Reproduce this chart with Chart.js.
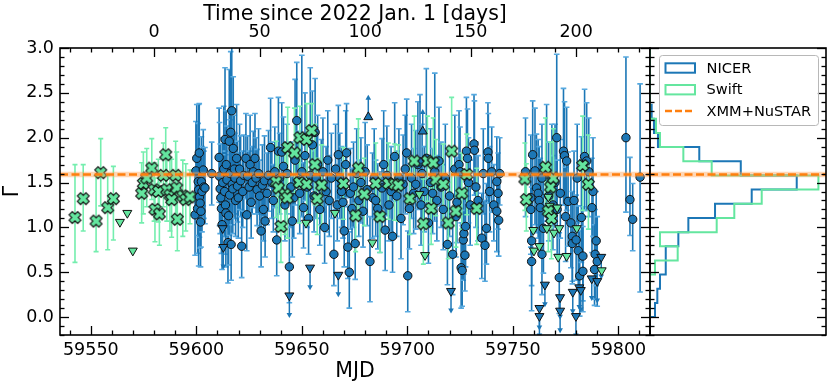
<!DOCTYPE html>
<html><head><meta charset="utf-8">
<script src="https://cdn.jsdelivr.net/npm/chart.js@4.4.0/dist/chart.umd.min.js"></script>
<style>
html,body{margin:0;padding:0;background:#fff;}
#wrap{position:relative;width:830px;height:385px;background:#fff;}
canvas{position:absolute;left:0;top:0;}
</style></head><body>
<div id="wrap"><canvas id="main" width="830" height="385"></canvas><canvas id="hist" width="830" height="385"></canvas></div>
<script>
// ---------------- DATA ----------------
const mjdRef = 59580;            // 2022 Jan. 1
const xmmGamma = 1.59;
const xmmBand = [1.56, 1.62];
const legendLabels = ['NICER', 'Swift', 'XMM+NuSTAR'];
const mjdTicks = [59550, 59600, 59650, 59700, 59750, 59800];
const dayTicks = [0, 50, 100, 150, 200];
const gammaTicks = [0.0, 0.5, 1.0, 1.5, 2.0, 2.5, 3.0];

// NICER detections: [MJD, Gamma, err down, err up]
const nicerPoints = [
[59599.4,1.14,0.45,0.5],[59599.8,1.63,0.5,0.55],[59600.2,1.77,0.55,0.6],[59600.6,1.21,0.5,0.55],[59600.9,1.51,0.6,0.65],
[59601.1,1.42,0.85,0.95],[59601.4,1.83,0.5,0.55],[59601.5,1.34,0.45,0.5],[59601.8,1.27,0.5,0.55],[59602.0,1.06,0.5,0.45],
[59602.2,1.18,0.4,0.45],[59602.4,1.51,0.45,0.5],[59602.7,1.40,0.45,0.5],[59603.3,1.64,0.4,0.45],[59603.6,1.45,0.35,0.4],
[59604.1,1.44,0.4,0.45],[59607.3,1.60,0.35,0.35],
[59610.8,1.78,0.5,0.55],[59611.0,1.57,0.55,0.6],[59611.3,1.43,0.5,0.5],[59611.6,1.33,0.55,0.6],[59611.9,1.21,0.5,0.55],
[59612.2,1.03,0.5,0.5],[59612.5,1.50,0.45,0.5],[59613.0,1.65,0.5,0.7],[59613.6,1.98,0.5,0.8],[59613.4,1.40,0.5,0.6],
[59613.8,1.25,0.55,0.6],[59614.0,1.16,0.6,0.65],[59614.2,1.70,0.5,0.6],[59614.5,1.53,0.55,0.6],[59615.0,0.83,0.45,0.5],
[59615.3,1.13,0.55,0.6],[59615.6,1.96,0.6,0.8],[59615.8,1.36,0.45,0.55],[59616.0,1.60,0.5,0.6],[59616.3,2.06,0.7,0.9],
[59616.5,0.81,0.4,0.5],[59616.8,2.30,0.9,1.0],[59617.0,1.48,0.45,0.55],[59617.3,1.43,0.5,0.6],[59617.5,1.88,0.6,0.8],
[59618.0,1.65,0.5,0.6],[59618.3,1.55,0.45,0.5],[59618.6,1.30,0.4,0.5],[59619.1,1.77,0.5,0.6],[59619.5,1.46,0.4,0.5],
[59619.9,1.33,0.45,0.5],[59620.5,1.65,0.45,0.5],[59621.0,1.52,0.4,0.5],[59621.5,0.79,0.35,0.4],[59622.0,1.40,0.4,0.45],
[59622.5,1.58,0.4,0.45],
[59623.5,1.77,0.45,0.5],[59623.9,1.14,0.4,0.45],[59624.3,1.57,0.4,0.45],[59625.0,1.45,0.35,0.4],[59625.5,1.70,0.45,0.55],
[59626.0,1.28,0.4,0.45],[59626.5,1.50,0.35,0.4],[59627.0,1.62,0.4,0.45],[59627.8,1.77,0.45,0.5],[59628.3,1.55,0.4,0.45],
[59628.8,1.42,0.4,0.45],[59629.5,1.60,0.45,0.5],[59630.0,1.35,0.35,0.4],[59630.7,0.96,0.4,0.45],[59631.3,1.47,0.4,0.45],
[59631.8,1.20,0.35,0.4],[59632.3,1.52,0.4,0.5],[59632.6,1.07,0.4,0.45],[59633.5,1.38,0.35,0.45],[59634.2,1.58,0.4,0.5],
[59635.2,1.89,0.45,0.55],[59635.8,1.50,0.4,0.45],[59636.5,1.30,0.35,0.4],
[59637.2,1.62,0.4,0.5],[59638.1,0.86,0.4,0.45],[59638.9,1.85,0.5,0.6],[59639.5,1.55,0.4,0.5],[59640.5,1.84,0.45,0.55],
[59641.3,1.68,0.45,0.55],[59642.0,1.25,0.4,0.45],[59643.0,1.60,0.45,0.55],[59644.1,0.56,0.4,0.5],[59644.8,1.45,0.45,0.5],
[59645.5,1.07,0.4,0.5],[59646.2,1.33,0.45,0.5],[59646.8,1.75,0.5,0.9],[59647.6,2.19,0.6,0.65],[59648.3,1.52,0.45,0.55],
[59649.0,1.38,0.45,0.5],[59650.0,1.62,0.5,1.3],[59650.8,1.22,0.45,0.5],[59651.5,1.80,0.5,0.7],[59652.5,1.45,0.45,0.6],
[59653.2,1.10,0.4,0.5],[59654.0,1.58,0.5,1.2],[59655.0,1.92,0.5,0.6],[59655.8,1.35,0.4,0.5],[59656.3,2.06,0.55,0.6],
[59656.8,1.55,0.45,0.5],[59657.5,1.70,0.45,0.55],[59658.5,1.20,0.4,0.5],[59659.2,1.48,0.45,0.5],[59660.0,1.62,0.45,0.6],
[59660.8,1.00,0.4,0.45],[59661.5,1.40,0.45,0.5],[59662.3,1.75,0.5,0.55],[59663.0,1.30,0.4,0.5],[59664.0,1.55,0.45,0.5],
[59665.2,0.70,0.35,0.45],[59666.0,1.65,0.45,0.5],[59666.8,1.25,0.4,0.45],[59667.3,1.81,0.5,0.55],
[59668.0,1.55,0.45,0.5],[59668.8,1.40,0.4,0.5],[59669.5,1.28,0.4,0.45],[59670.1,0.96,0.4,0.5],[59670.8,1.70,0.45,0.6],
[59671.2,1.83,0.5,0.55],[59671.8,0.78,0.35,0.45],[59672.5,0.50,0.4,0.45],[59673.0,1.38,0.4,0.5],[59673.8,1.21,0.4,0.45],
[59674.5,1.45,0.45,0.5],[59675.3,0.82,0.4,0.45],[59676.0,1.60,0.45,0.5],[59677.0,1.30,0.4,0.45],[59678.0,1.50,0.45,0.5],
[59679.0,1.18,0.4,0.5],[59680.0,1.62,0.45,0.55],[59681.0,1.42,0.4,0.5],[59682.3,0.62,0.45,0.5],[59683.5,1.33,0.45,0.5],
[59684.3,1.55,0.45,0.55],[59685.0,1.30,0.4,0.45],[59686.0,1.21,0.45,0.5],[59687.0,1.12,0.4,0.5],[59688.0,1.44,0.45,0.55],
[59688.8,1.70,0.5,0.6],[59689.5,0.97,0.45,0.5],[59690.3,1.58,0.45,0.55],[59691.3,1.25,0.4,0.5],[59692.3,1.40,0.45,0.5],
[59693.0,0.90,0.4,0.5],[59694.0,1.79,0.5,0.6],[59695.0,1.35,0.45,0.5],[59696.0,1.55,0.45,0.55],[59697.0,1.10,0.45,0.5],
[59698.0,1.48,0.45,0.55],[59699.0,1.65,0.5,0.6],[59699.7,1.83,0.5,0.6],[59700.2,0.46,0.4,0.5],
[59701.0,1.21,0.45,0.5],[59702.0,1.55,0.45,0.6],[59703.0,1.38,0.45,0.5],[59704.0,1.48,0.5,0.6],[59705.0,1.70,0.5,0.7],
[59706.0,1.73,0.5,0.75],[59706.5,1.25,0.45,0.5],[59707.0,1.60,0.5,0.55],[59708.0,1.40,0.45,0.5],[59709.0,1.77,0.55,1.0],
[59710.0,1.05,0.45,0.5],[59711.0,1.50,0.5,0.6],[59712.0,1.38,0.45,0.5],[59713.0,1.62,0.55,1.1],[59714.0,1.30,0.45,0.5],
[59715.0,1.74,0.5,0.6],[59716.0,1.45,0.45,0.5],[59717.0,1.20,0.45,0.5],[59718.0,1.55,0.5,0.6],[59719.0,0.81,0.45,0.5],
[59720.0,1.35,0.45,0.5],[59721.5,0.70,0.45,0.5],[59722.5,1.65,0.5,0.6],[59723.1,1.12,0.45,0.5],[59723.5,1.28,0.45,0.5],
[59724.5,1.70,0.5,0.6],[59725.0,1.62,0.45,0.5],[59725.5,0.55,0.45,0.5],[59726.0,0.52,0.4,0.5],[59726.5,0.86,0.45,0.5],
[59726.8,0.93,0.45,0.5],[59727.3,0.69,0.4,0.5],[59727.6,1.01,0.45,0.5],[59728.0,1.85,0.5,0.6],[59728.5,1.77,0.5,0.55],
[59729.0,1.50,0.45,0.5],[59729.8,1.25,0.45,0.5],[59731.6,1.93,0.5,0.55],[59731.8,1.86,0.5,0.55],[59732.5,1.45,0.45,0.5],
[59733.5,1.30,0.45,0.5],[59735.3,0.88,0.45,0.5],[59736.0,1.60,0.45,0.5],[59736.8,0.80,0.4,0.5],[59737.5,0.99,0.4,0.5],
[59738.2,1.84,0.5,0.55],[59738.4,1.77,0.5,0.5],[59739.0,1.40,0.45,0.5],[59740.0,1.62,0.45,0.5],[59741.0,1.25,0.4,0.45],
[59742.4,1.51,0.45,0.5],[59742.4,1.18,0.45,0.45],[59743.0,1.38,0.4,0.45],[59743.3,1.08,0.4,0.45],[59743.8,1.60,0.35,0.4],
[59756.0,1.62,0.5,0.6],[59758.5,1.33,0.55,0.7],[59758.5,1.20,0.5,0.6],[59758.9,0.85,0.5,0.6],[59758.9,0.62,0.55,0.6],
[59759.4,1.81,0.6,0.6],[59760.5,1.63,0.6,0.7],[59761.2,1.44,0.5,0.6],[59762.0,1.38,0.5,0.6],[59762.5,1.30,0.5,0.6],
[59763.0,1.22,0.5,0.55],[59763.8,1.55,0.55,0.6],[59763.8,0.70,0.45,0.55],[59764.5,0.99,0.5,0.55],[59766.0,1.62,0.55,0.75],
[59767.0,1.35,0.5,0.6],[59768.5,1.55,0.5,0.6],[59769.0,1.25,0.5,0.55],[59770.0,1.50,0.5,0.65],[59770.8,2.00,0.75,0.93],
[59771.0,1.20,0.5,0.55],[59772.0,0.44,0.4,0.5],[59772.5,1.38,0.5,0.6],[59774.0,1.85,0.6,0.7],[59774.5,1.80,0.55,0.6],
[59775.0,1.12,0.5,0.55],[59775.5,1.74,0.55,0.6],[59776.2,1.29,0.5,0.55],[59777.5,1.05,0.5,0.55],[59778.2,0.90,0.5,0.5],
[59778.2,0.82,0.45,0.5],[59779.0,1.30,0.5,0.55],[59780.0,0.86,0.45,0.5],[59780.5,1.55,0.5,0.6],[59781.0,0.74,0.45,0.5],
[59781.7,0.46,0.45,0.5],[59782.5,1.11,0.5,0.9],[59783.2,0.68,0.5,0.55],[59783.2,0.51,0.45,0.5],[59784.0,1.79,0.6,0.75],
[59785.0,1.74,0.55,0.65],[59786.0,1.62,0.5,0.6],[59787.5,1.22,0.5,0.55],[59788.0,1.40,0.5,0.6],[59788.7,0.53,0.4,0.5],
[59789.0,0.70,0.5,0.5],[59789.5,0.85,0.5,0.55],[59790.0,0.62,0.5,0.5],
[59803.6,2.00,0.83,0.9],[59805.5,1.31,0.4,0.47],[59806.8,1.09,0.35,0.4],[59810.3,1.56,1.28,1.04]
];
// NICER upper limits (down triangles) and lower limits (up triangles): [MJD, Gamma]
const nicerUpperLimits = [
[59612.5,0.99],[59612.8,0.78],[59644.1,0.24],[59653.9,0.55],[59667.3,0.47],[59720.7,0.29],
[59762.6,0.10],[59762.6,0.01],[59765.2,0.36],[59772.4,0.22],[59772.4,0.07],[59778.4,0.28],
[59779.9,0.01],[59781.5,0.33],[59782.2,0.30],[59787.4,0.43],[59790.0,0.40],[59791.9,0.67]
];
const nicerLowerLimits = [[59681.5,2.23],[59707.3,2.07]];

// Swift detections: [MJD, Gamma, err down, err up]
const swiftPoints = [
[59542.5,1.11,0.50,0.59],[59546.4,1.32,0.36,0.38],[59552.5,1.07,0.34,0.51],[59554.7,1.61,0.37,0.38],
[59558.0,1.22,0.47,0.36],[59560.7,1.32,0.46,0.36],[59574.1,1.38,0.33,0.34],[59574.9,1.49,0.34,0.35],
[59576.5,1.55,0.32,0.33],[59578.9,1.66,0.35,0.33],[59580.0,1.42,0.35,0.30],[59580.4,1.20,0.36,0.35],
[59582.0,1.40,0.34,0.36],[59582.5,1.15,0.35,0.35],[59584.4,1.58,0.35,0.36],[59585.5,1.81,0.40,0.30],
[59586.0,1.42,0.35,0.36],[59587.5,1.36,0.40,0.42],[59588.3,1.31,0.42,0.45],[59590.2,1.58,0.50,0.38],
[59590.7,1.44,0.40,0.40],[59591.0,1.09,0.35,0.45],[59593.6,1.35,0.45,0.40],[59595.0,1.31,0.35,0.40],
[59597.0,1.34,0.30,0.30],
[59637.8,1.51,0.40,0.45],[59638.9,1.44,0.40,0.45],[59640.1,1.01,0.40,0.45],[59642.0,1.37,0.45,0.50],
[59643.1,1.33,0.45,0.50],[59643.3,1.89,0.50,0.45],[59646.5,1.83,0.45,0.50],[59648.8,1.50,0.45,0.50],
[59649.1,2.00,0.50,0.35],[59652.3,1.98,0.50,0.40],[59652.3,1.48,0.45,0.45],[59654.7,2.08,0.50,0.30],
[59656.2,1.70,0.45,0.45],[59657.3,1.32,0.40,0.45],[59659.4,1.47,0.45,0.45],[59669.7,1.49,0.40,0.40],
[59675.5,1.13,0.40,0.45],[59676.8,1.66,0.45,0.55],[59679.6,1.37,0.35,0.40],[59685.0,1.49,0.40,0.45],
[59687.0,1.12,0.40,0.45],[59691.0,1.49,0.40,0.45],[59694.0,1.48,0.40,0.45],[59695.7,1.47,0.40,0.45],
[59701.2,1.32,0.40,0.45],[59703.3,1.74,0.45,0.50],[59707.6,1.04,0.45,0.50],[59709.5,1.74,0.45,0.50],
[59711.3,1.21,0.40,0.45],[59712.3,1.72,0.45,0.50],[59713.5,1.53,0.40,0.45],[59717.0,1.48,0.40,0.45],
[59719.4,1.05,0.40,0.45],[59721.0,1.85,0.50,0.60],[59723.0,1.18,0.40,0.45],[59725.8,1.38,0.40,0.45],
[59728.2,1.59,0.45,0.45],[59732.9,1.21,0.40,0.45],
[59755.7,1.54,0.35,0.40],[59756.4,1.31,0.35,0.40],[59765.5,1.67,0.50,0.55],[59766.8,1.18,0.45,0.50],
[59767.9,1.45,0.45,0.50],[59768.3,1.10,0.45,0.50],[59769.2,1.55,0.45,0.55],[59783.1,1.69,0.50,0.55],
[59785.8,1.48,0.50,0.55]
];
// Swift upper limits (down triangles): [MJD, Gamma]
const swiftUpperLimits = [
[59563.8,1.06],[59567.3,1.16],[59569.9,0.74],[59652.0,1.05],[59665.7,1.16],[59683.4,0.83],
[59705.7,1.37],[59708.4,0.69],[59759.7,0.97],[59760.0,0.74],[59762.6,0.79],[59766.1,0.99],
[59766.8,1.34],[59767.5,1.24],[59769.5,0.94],[59771.0,1.22],[59772.0,0.99],[59771.5,0.67],
[59775.5,0.68],[59780.3,0.99],[59792.1,0.52]
];

// Histograms of Gamma (density), bin edges and values
const histEdges = [0.000,0.158,0.316,0.474,0.632,0.789,0.947,1.105,1.263,1.421,1.579,1.737,1.895,2.053,2.211,2.368,2.526,2.684,2.842,3.000];
const nicerHist = [0.054,0.079,0.108,0.170,0.170,0.306,0.414,0.702,1.098,1.584,0.980,0.532,0.086,0.043,0.018,0,0,0,0];
const swiftHist = [0,0,0,0.054,0.299,0.108,0.720,0.910,1.206,1.818,0.666,0.360,0.108,0.065,0,0,0,0,0];

// ---------------- STYLE ----------------
const FONT = "'DejaVu Sans', sans-serif";
const BLUE = '#1c77b6', BLUE_CAP = '#56a9e0';
const GREEN = '#64e69f', GREEN_BAR = '#74eeae';
const ORANGE = '#ff7f0e', BAND = 'rgba(255,160,80,0.42)';
const X_MIN = 59535.4, X_MAX = 59815, Y_MIN = -0.2, Y_MAX = 3.0, H_MAX = 1.90;

Chart.defaults.font.family = FONT;
Chart.defaults.color = '#000';

function makeX(fill) {
  const c = document.createElement('canvas'); const S = 17; c.width = S; c.height = S;
  const g = c.getContext('2d');
  const a = 6.1, w = 2.3;
  const pts = [[w,w],[w,a],[-w,a],[-w,w],[-a,w],[-a,-w],[-w,-w],[-w,-a],[w,-a],[w,-w],[a,-w],[a,w]];
  g.translate(S/2, S/2); g.rotate(Math.PI/4);
  g.beginPath(); pts.forEach((p,i)=> i ? g.lineTo(p[0],p[1]) : g.moveTo(p[0],p[1])); g.closePath();
  g.fillStyle = fill; g.fill(); g.lineWidth = 1.1; g.strokeStyle = '#111'; g.stroke();
  return c;
}

function toPts(arr) { return arr.map(r => ({x: r[0], y: r[1], eLo: r[2], eHi: r[3]})); }
function stepPath(edges, vals) {
  const out = [{x: 0, y: edges[0]}];
  vals.forEach((v, i) => { out.push({x: v, y: edges[i]}); out.push({x: v, y: edges[i+1]}); });
  out.push({x: 0, y: edges[edges.length-1]});
  return out;
}

// error bars + limit arrows, drawn under the markers
const errorBarsPlugin = {
  id: 'errorBars',
  beforeDatasetsDraw(chart) {
    const {ctx, chartArea: a, scales: {x, y}} = chart;
    ctx.save();
    ctx.beginPath(); ctx.rect(a.left, a.top, a.right - a.left, a.bottom - a.top); ctx.clip();
    chart.data.datasets.forEach(ds => {
      const eb = ds.errorBars;
      if (eb) {
        ds.data.forEach(p => {
          const px = x.getPixelForValue(p.x);
          const y0 = y.getPixelForValue(p.y - p.eLo), y1 = y.getPixelForValue(p.y + p.eHi);
          ctx.lineWidth = eb.width; ctx.strokeStyle = eb.color;
          ctx.beginPath(); ctx.moveTo(px, y0); ctx.lineTo(px, y1); ctx.stroke();
          ctx.strokeStyle = eb.capColor;
          ctx.beginPath();
          ctx.moveTo(px - eb.cap, y0); ctx.lineTo(px + eb.cap, y0);
          ctx.moveTo(px - eb.cap, y1); ctx.lineTo(px + eb.cap, y1);
          ctx.stroke();
        });
      }
      const ar = ds.limitArrow;
      if (ar) {
        ds.data.forEach(p => {
          const px = x.getPixelForValue(p.x);
          const y0 = y.getPixelForValue(p.y), y1 = y.getPixelForValue(p.y + ar.dir * ar.len);
          ctx.strokeStyle = ar.color; ctx.fillStyle = ar.color; ctx.lineWidth = 1.5;
          const s = y1 > y0 ? 1 : -1;
          ctx.beginPath(); ctx.moveTo(px, y0); ctx.lineTo(px, y1 - s * 3); ctx.stroke();
          ctx.beginPath(); ctx.moveTo(px, y1); ctx.lineTo(px - 2.8, y1 - s * 5); ctx.lineTo(px + 2.8, y1 - s * 5); ctx.closePath(); ctx.fill();
        });
      }
    });
    ctx.restore();
  }
};

// frame + inward major/minor ticks
const frameTicksPlugin = {
  id: 'frameTicks',
  afterDraw(chart, args, opts) {
    const {ctx, chartArea: a} = chart;
    ctx.save();
    ctx.strokeStyle = '#000'; ctx.lineWidth = 1.3;
    (opts.sides || []).forEach(s => {
      const sc = chart.scales[s.scale];
      const start = Math.ceil((sc.min - 1e-9) / s.minor);
      for (let k = start; k * s.minor <= sc.max + 1e-9; k++) {
        const v = k * s.minor;
        const r = v / s.major;
        const len = Math.abs(r - Math.round(r)) < 1e-6 ? 9 : 4.5;
        const p = Math.round(sc.getPixelForValue(v)) + 0.5;
        ctx.beginPath();
        if (s.side === 'bottom') { ctx.moveTo(p, a.bottom); ctx.lineTo(p, a.bottom - len); }
        if (s.side === 'top') { ctx.moveTo(p, a.top); ctx.lineTo(p, a.top + len); }
        if (s.side === 'left') { ctx.moveTo(a.left, p); ctx.lineTo(a.left + len, p); }
        if (s.side === 'right') { ctx.moveTo(a.right, p); ctx.lineTo(a.right - len, p); }
        ctx.stroke();
      }
    });
    ctx.lineWidth = 1.6;
    ctx.strokeRect(a.left, a.top, a.right - a.left, a.bottom - a.top);
    ctx.restore();
  }
};

const legendPlugin = {
  id: 'boxLegend',
  afterDraw(chart) {
    const ctx = chart.ctx;
    ctx.save();
    const bx = 659.5, by = 55.5, bw = 159, bh = 70, r = 3;
    ctx.beginPath();
    ctx.moveTo(bx + r, by); ctx.lineTo(bx + bw - r, by); ctx.quadraticCurveTo(bx + bw, by, bx + bw, by + r);
    ctx.lineTo(bx + bw, by + bh - r); ctx.quadraticCurveTo(bx + bw, by + bh, bx + bw - r, by + bh);
    ctx.lineTo(bx + r, by + bh); ctx.quadraticCurveTo(bx, by + bh, bx, by + bh - r);
    ctx.lineTo(bx, by + r); ctx.quadraticCurveTo(bx, by, bx + r, by); ctx.closePath();
    ctx.fillStyle = 'rgba(255,255,255,0.85)'; ctx.fill();
    ctx.strokeStyle = '#b8b8b8'; ctx.lineWidth = 1; ctx.stroke();
    const rows = [
      {kind: 'rect', color: BLUE, cy: 68},
      {kind: 'rect', color: GREEN, cy: 89.7},
      {kind: 'dash', color: ORANGE, cy: 111}
    ];
    ctx.font = "14.6px " + FONT; ctx.fillStyle = '#000'; ctx.textBaseline = 'middle';
    rows.forEach((row, i) => {
      if (row.kind === 'rect') {
        ctx.strokeStyle = row.color; ctx.lineWidth = 2;
        ctx.strokeRect(665.5, row.cy - 4.7, 29.5, 9.4);
      } else {
        ctx.strokeStyle = row.color; ctx.lineWidth = 2.4; ctx.setLineDash([7, 3]);
        ctx.beginPath(); ctx.moveTo(665, row.cy); ctx.lineTo(695, row.cy); ctx.stroke(); ctx.setLineDash([]);
      }
      ctx.fillText(legendLabels[i], 706.5, row.cy + 1);
    });
    ctx.restore();
  }
};

function xmmDatasets(xmin, xmax) {
  return [
    {type: 'line', showLine: true, data: [{x: xmin, y: xmmGamma}, {x: xmax, y: xmmGamma}],
     borderColor: ORANGE, borderWidth: 2.4, borderDash: [8, 3.5], pointRadius: 0, fill: false, order: 0},
    {type: 'line', showLine: true, data: [{x: xmin, y: xmmBand[1]}, {x: xmax, y: xmmBand[1]}],
     borderWidth: 0, borderColor: 'rgba(0,0,0,0)', pointRadius: 0, fill: {value: xmmBand[0]}, backgroundColor: BAND, order: 1}
  ];
}

const xImg = makeX(GREEN);
const tickFont = {size: 17.5};
const titleFont = {size: 20.5};

new Chart(document.getElementById('main'), {
  type: 'scatter',
  data: {
    datasets: [
      {label: legendLabels[0], data: toPts(nicerPoints), pointStyle: 'circle', pointRadius: 4.2,
       backgroundColor: BLUE, borderColor: '#111', borderWidth: 1, order: 6,
       errorBars: {color: BLUE, capColor: BLUE_CAP, width: 1.6, cap: 2.8}},
      {data: nicerUpperLimits.map(r => ({x: r[0], y: r[1]})), pointStyle: 'triangle', rotation: 180, pointRadius: 5.2,
       backgroundColor: BLUE, borderColor: '#111', borderWidth: 1, order: 5,
       limitArrow: {dir: -1, len: 0.25, color: BLUE}},
      {data: nicerLowerLimits.map(r => ({x: r[0], y: r[1]})), pointStyle: 'triangle', pointRadius: 5.2,
       backgroundColor: BLUE, borderColor: '#111', borderWidth: 1, order: 4,
       limitArrow: {dir: 1, len: 0.25, color: BLUE}},
      {label: legendLabels[1], data: toPts(swiftPoints), pointStyle: xImg, order: 2,
       errorBars: {color: GREEN_BAR, capColor: GREEN_BAR, width: 1.6, cap: 2.5}},
      {data: swiftUpperLimits.map(r => ({x: r[0], y: r[1]})), pointStyle: 'triangle', rotation: 180, pointRadius: 5.2,
       backgroundColor: GREEN, borderColor: '#111', borderWidth: 1, order: 3},
      ...xmmDatasets(X_MIN, X_MAX)
    ]
  },
  options: {
    responsive: false, animation: false, events: [],
    layout: {padding: {left: 0, right: 180, top: 0, bottom: 0}},
    plugins: {
      legend: {display: false}, tooltip: {enabled: false},
      frameTicks: {sides: [
        {scale: 'x', side: 'bottom', major: 50, minor: 10},
        {scale: 'x2', side: 'top', major: 50, minor: 10},
        {scale: 'y', side: 'left', major: 0.5, minor: 0.1},
        {scale: 'y', side: 'right', major: 0.5, minor: 0.1}
      ]}
    },
    scales: {
      x: {type: 'linear', position: 'bottom', min: X_MIN, max: X_MAX,
          afterBuildTicks: s => { s.ticks = mjdTicks.map(v => ({value: v})); },
          ticks: {callback: v => String(v), font: tickFont, padding: 5, maxRotation: 0, autoSkip: false},
          grid: {display: false, drawTicks: false}, border: {display: false},
          title: {display: true, text: 'MJD', font: titleFont, padding: {top: 0, bottom: 1.5}},
          afterFit: s => { s.height = 50; }},
      x2: {type: 'linear', position: 'top', min: X_MIN - mjdRef, max: X_MAX - mjdRef,
          afterBuildTicks: s => { s.ticks = dayTicks.map(v => ({value: v})); },
          ticks: {callback: v => String(v), font: tickFont, padding: 5, maxRotation: 0, autoSkip: false},
          grid: {display: false, drawTicks: false}, border: {display: false},
          title: {display: true, text: 'Time since 2022 Jan. 1 [days]', font: titleFont, padding: {top: 2, bottom: 0}},
          afterFit: s => { s.height = 48; }},
      y: {type: 'linear', position: 'left', min: Y_MIN, max: Y_MAX,
          afterBuildTicks: s => { s.ticks = gammaTicks.map(v => ({value: v})); },
          ticks: {callback: v => Number(v).toFixed(1), font: tickFont, padding: 6, autoSkip: false},
          grid: {display: false, drawTicks: false}, border: {display: false},
          title: {display: true, text: 'Γ', font: titleFont, padding: {top: 0, bottom: 0}},
          afterFit: s => { s.width = 60; }}
    }
  },
  plugins: [errorBarsPlugin, frameTicksPlugin]
});

new Chart(document.getElementById('hist'), {
  type: 'scatter',
  data: {
    datasets: [
      {label: legendLabels[0], data: stepPath(histEdges, nicerHist), showLine: true, borderColor: BLUE,
       borderWidth: 2, pointRadius: 0, fill: false, order: 3},
      {label: legendLabels[1], data: stepPath(histEdges, swiftHist), showLine: true, borderColor: GREEN,
       borderWidth: 2, pointRadius: 0, fill: false, order: 2},
      ...xmmDatasets(0, H_MAX)
    ]
  },
  options: {
    responsive: false, animation: false, events: [],
    layout: {padding: {left: 650, right: 4, top: 48, bottom: 50}},
    plugins: {
      legend: {display: false}, tooltip: {enabled: false},
      frameTicks: {sides: [
        {scale: 'y', side: 'left', major: 0.5, minor: 0.1},
        {scale: 'y', side: 'right', major: 0.5, minor: 0.1}
      ]}
    },
    scales: {
      x: {type: 'linear', display: false, min: 0, max: H_MAX},
      y: {type: 'linear', display: false, min: Y_MIN, max: Y_MAX}
    }
  },
  plugins: [frameTicksPlugin, legendPlugin]
});
</script></body></html>
